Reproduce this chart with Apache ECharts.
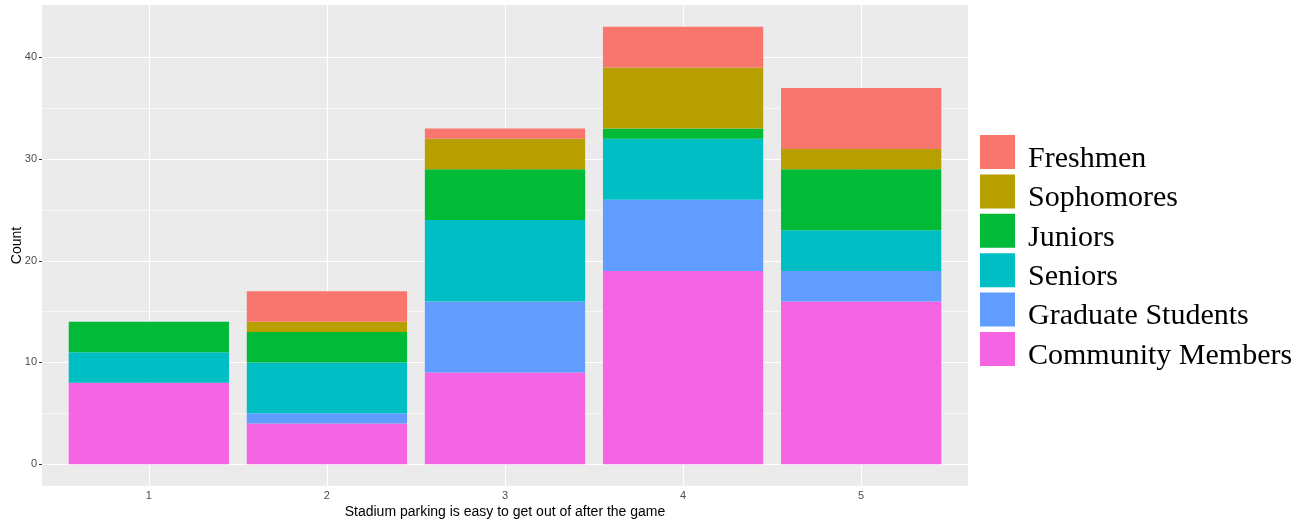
<!DOCTYPE html>
<html>
<head>
<meta charset="utf-8">
<script src="https://cdn.jsdelivr.net/npm/echarts@6/dist/echarts.min.js"></script>
<style>html,body{margin:0;padding:0;background:#fff;}#c{width:1311px;height:522px;}</style>
</head>
<body>
<div id="c"></div>
<script>
const categories = ['1', '2', '3', '4', '5'];
const community = [8, 4, 9, 19, 16];
const graduate = [0, 1, 7, 7, 3];
const seniors = [3, 5, 8, 6, 4];
const juniors = [3, 3, 5, 1, 6];
const sophomores = [0, 1, 3, 6, 2];
const freshmen = [0, 3, 1, 4, 6];
const yTicks = [0, 10, 20, 30, 40];
const yMinor = [5, 15, 25, 35];
const xGridPositions = [1, 2, 3, 4, 5];

const groups = [
  { name: 'Community Members', values: community, color: '#F564E3' },
  { name: 'Graduate Students', values: graduate, color: '#619CFF' },
  { name: 'Seniors', values: seniors, color: '#00BFC4' },
  { name: 'Juniors', values: juniors, color: '#00BA38' },
  { name: 'Sophomores', values: sophomores, color: '#B79F00' },
  { name: 'Freshmen', values: freshmen, color: '#F8766D' }
];

const chart = echarts.init(document.getElementById('c'), null, { renderer: 'canvas' });

const W = 1311;
const panelLeft = 42, panelRight = 968;
const unit = (panelRight - panelLeft) / 5.2;
const dataLeft = panelLeft + 0.1 * unit;
const dataRight = panelRight - 0.1 * unit;

const series = [{
  name: 'grid',
  type: 'line',
  xAxisIndex: 0,
  yAxisIndex: 0,
  data: [],
  z: 1,
  silent: true,
  markLine: {
    silent: true,
    z: 1,
    symbol: 'none',
    label: { show: false },
    animation: false,
    data: [
      ...yMinor.map(v => ({ yAxis: v, lineStyle: { color: '#ffffff', width: 0.6, type: 'solid' } })),
      ...yTicks.map(v => ({ yAxis: v, lineStyle: { color: '#ffffff', width: 1.1, type: 'solid' } })),
      ...xGridPositions.map(v => ({ xAxis: v, lineStyle: { color: '#ffffff', width: 1.1, type: 'solid' } }))
    ]
  }
}];

groups.forEach(g => series.push({
  name: g.name,
  type: 'bar',
  stack: 'total',
  xAxisIndex: 1,
  yAxisIndex: 1,
  barWidth: '90%',
  z: 3,
  itemStyle: { color: g.color },
  data: g.values
}));

const axisFont = { fontFamily: 'Liberation Sans', fontSize: 11, color: '#4D4D4D' };

chart.setOption({
  animation: false,
  grid: [
    { left: panelLeft, right: W - panelRight, top: 5, bottom: 36, show: true, backgroundColor: '#EBEBEB', borderWidth: 0, outerBoundsMode: 'none', containLabel: false },
    { left: dataLeft, right: W - dataRight, top: 5, bottom: 36, show: false, outerBoundsMode: 'none', containLabel: false }
  ],
  xAxis: [
    {
      gridIndex: 0, type: 'value', min: 0.4, max: 5.6, show: false
    },
    {
      gridIndex: 1, type: 'category', data: categories, boundaryGap: true,
      name: 'Stadium parking is easy to get out of after the game',
      nameLocation: 'middle',
      nameGap: 19,
      nameMoveOverlap: false,
      nameTextStyle: { fontFamily: 'Liberation Sans', fontSize: 14, color: '#000' },
      axisLine: { show: false },
      axisTick: { show: true, length: 3, alignWithLabel: true, lineStyle: { color: '#333' } },
      axisLabel: Object.assign({ margin: 4 }, axisFont),
      splitLine: { show: false }
    }
  ],
  yAxis: [
    {
      gridIndex: 0, type: 'value', min: -2.15, max: 45.15,
      name: 'Count',
      nameLocation: 'middle',
      nameGap: 18,
      nameMoveOverlap: false,
      nameRotate: 90,
      nameTextStyle: { fontFamily: 'Liberation Sans', fontSize: 14, color: '#000' },
      axisLine: { show: false },
      axisTick: { show: true, length: 3, customValues: yTicks, lineStyle: { color: '#333' } },
      axisLabel: Object.assign({ customValues: yTicks, margin: 5 }, axisFont),
      splitLine: { show: false }
    },
    {
      gridIndex: 1, type: 'value', min: -2.15, max: 45.15, show: false
    }
  ],
  legend: {
    orient: 'vertical',
    left: 980,
    top: 130,
    padding: 0,
    icon: 'rect',
    itemWidth: 35,
    itemHeight: 34,
    itemGap: -4.6,
    data: ['Freshmen', 'Sophomores', 'Juniors', 'Seniors', 'Graduate Students', 'Community Members'],
    formatter: name => '{s| }\n{t|' + name + '}',
    textStyle: {
      padding: [0, 0, 0, 8],
      rich: {
        s: { fontSize: 1, height: 14, lineHeight: 14 },
        t: { fontFamily: 'Liberation Serif', fontSize: 30, lineHeight: 30, color: '#000' }
      }
    }
  },
  series: series
});
</script>
</body>
</html>
